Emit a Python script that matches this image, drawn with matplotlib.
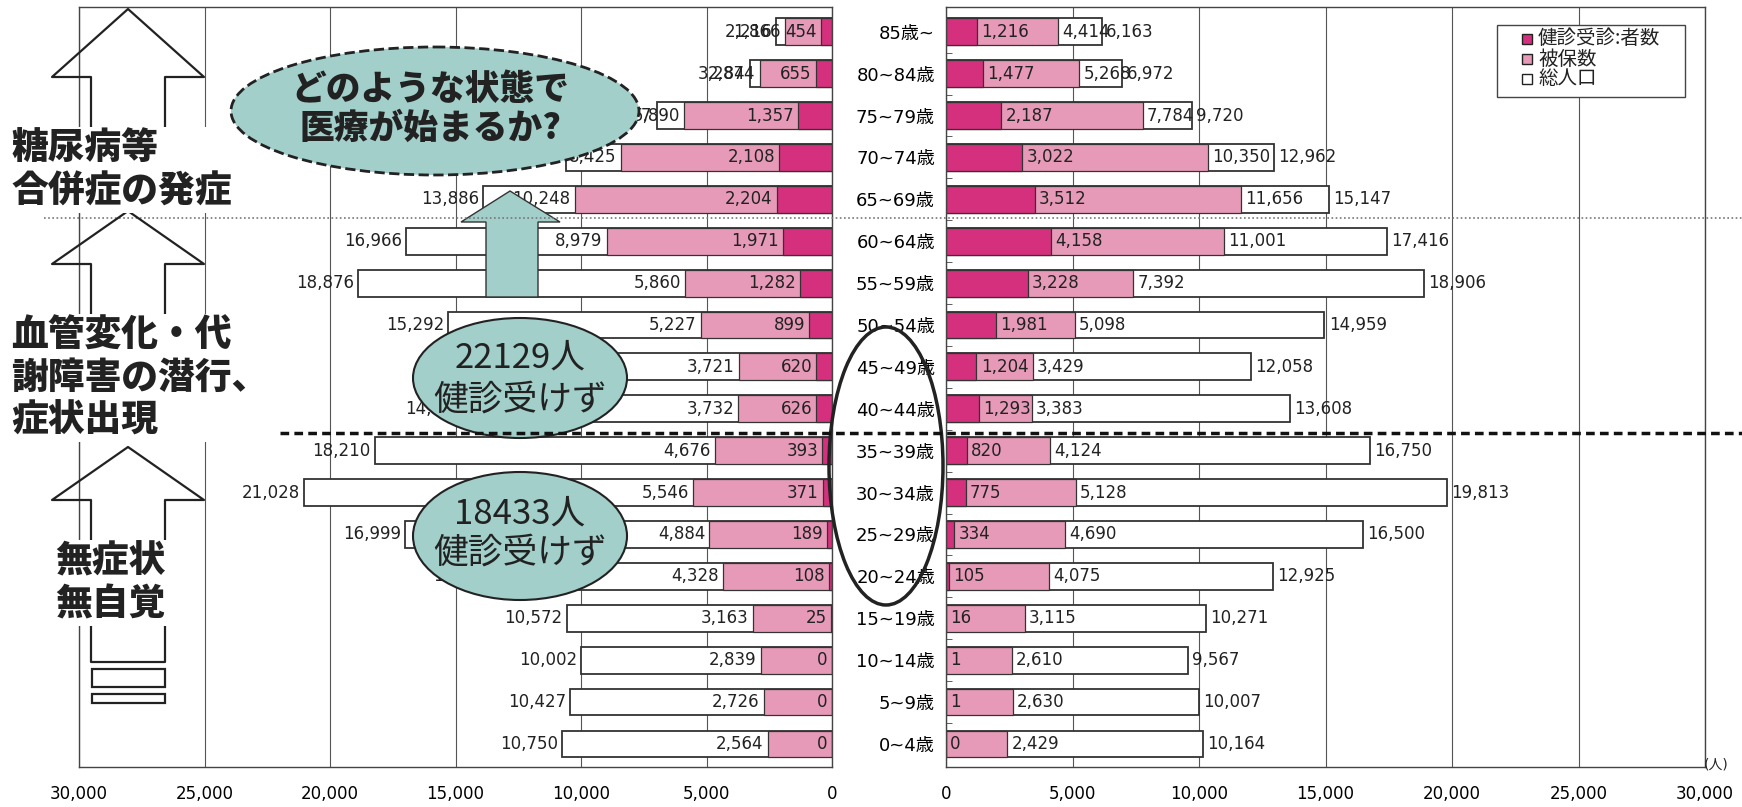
import matplotlib
matplotlib.use('Agg')
import matplotlib.pyplot as plt
from matplotlib.patches import Ellipse, Polygon, Rectangle
import numpy as np

plt.rcParams['font.family'] = ['DejaVu Sans', 'Noto Sans CJK JP']

# age groups, bottom to top
ages = ['0~4歳', '5~9歳', '10~14歳', '15~19歳', '20~24歳', '25~29歳', '30~34歳',
        '35~39歳', '40~44歳', '45~49歳', '50~54歳', '55~59歳', '60~64歳',
        '65~69歳', '70~74歳', '75~79歳', '80~84歳', '85歳~']

left_total = [10750, 10427, 10002, 10572, 13412, 16999, 21028, 18210, 14537,
              12412, 15292, 18876, 16966, 13886, 10612, 6977, 3284, 2216]
left_insured = [2564, 2726, 2839, 3163, 4328, 4884, 5546, 4676, 3732,
                3721, 5227, 5860, 8979, 10248, 8425, 5890, 2874, 1866]
left_checked = [0, 0, 0, 25, 108, 189, 371, 393, 626,
                620, 899, 1282, 1971, 2204, 2108, 1357, 655, 454]

right_total = [10164, 10007, 9567, 10271, 12925, 16500, 19813, 16750, 13608,
               12058, 14959, 18906, 17416, 15147, 12962, 9720, 6972, 6163]
right_insured = [2429, 2630, 2610, 3115, 4075, 4690, 5128, 4124, 3383,
                 3429, 5098, 7392, 11001, 11656, 10350, 7784, 5268, 4414]
right_checked = [0, 1, 1, 16, 105, 334, 775, 820, 1293,
                 1204, 1981, 3228, 4158, 3512, 3022, 2187, 1477, 1216]

series_names = ['健診受診:者数', '被保数', '総人口']
xticks = [0, 5000, 10000, 15000, 20000, 25000, 30000]

W, H = 1742, 807
fig = plt.figure(figsize=(W / 100, H / 100), dpi=100)


def px_axes(x0, y0, x1, y1):
    return fig.add_axes([x0 / W, 1 - y1 / H, (x1 - x0) / W, (y1 - y0) / H])


axL = px_axes(79, 7, 832, 767)
axR = px_axes(946, 7, 1705, 767)

dark = '#D4307D'
pink = '#E79AB7'
edge = '#333333'
teal = '#A2CFCA'
colors = [dark, pink, 'white']
y = np.arange(len(ages))
bh = 0.64

for side, ax, tot, ins, chk in [('L', axL, left_total, left_insured, left_checked),
                                ('R', axR, right_total, right_insured, right_checked)]:
    ax.barh(y, tot, height=bh, color='white', edgecolor=edge, lw=1.3)
    ax.barh(y, ins, height=bh, color=pink, edgecolor=edge, lw=0.9)
    ax.barh(y, chk, height=bh, color=dark, edgecolor=edge, lw=0.9)
    ax.set_xlim(0, 30000)
    ax.set_ylim(-0.55, 17.59)
    ax.set_xticks(xticks)
    ax.set_xticklabels([f'{v:,}' for v in xticks])
    ax.grid(axis='x', color='#555555', lw=0.8)
    ax.set_axisbelow(True)
    ax.tick_params(axis='x', length=0, pad=13, labelsize=12)
    for s in ax.spines.values():
        s.set_color('#444444')
        s.set_linewidth(1)
    off = -3 if side == 'L' else 3
    ha = 'right' if side == 'L' else 'left'
    for vals in (chk, ins, tot):
        for yi, v in zip(y, vals):
            ax.annotate(f'{v:,}', xy=(v, yi), xytext=(off, 0), textcoords='offset points',
                        ha=ha, va='center', fontsize=12, color='#222222')

axL.invert_xaxis()
axL.set_yticks([])
axR.set_yticks(y, ages)
axR.tick_params(axis='y', length=0, pad=8, labelsize=13)
axR.set_yticks(y[:-1] + 0.5, minor=True)
axR.tick_params(axis='y', which='minor', length=4, direction='in', color='#444444')

# overlay in pixel coordinates
ov = fig.add_axes([0, 0, 1, 1], facecolor='none')
ov.set_xlim(0, W)
ov.set_ylim(H, 0)
ov.axis('off')
ov.set_zorder(10)

# legend box
ov.add_patch(Rectangle((1497, 25), 188, 72, fc='white', ec='#444444', lw=1))
for i, (name, c) in enumerate(zip(series_names, colors)):
    ly = 39 + i * 20
    ov.add_patch(Rectangle((1522, ly - 5), 10, 10, fc=c, ec='#222222', lw=1))
    ov.text(1538, ly, name, ha='left', va='center', family=['Noto Sans CJK JP'],
            fontsize=14, color='#222222')

ov.plot([44, W], [218, 218], color='#777777', lw=1.2, ls=(0, (1, 1.5)))
ov.plot([280, W], [433, 433], color='#111111', lw=2.5, ls=(0, (2.5, 1.5)))


def outline_arrow(apex, base, bottom, cx=128, hw=76, sw=37):
    xs = [cx - sw, cx - sw, cx - hw, cx, cx + hw, cx + sw, cx + sw]
    ys = [bottom, base, base, apex, base, base, bottom]
    ov.plot(xs, ys, color='#222222', lw=1.6)


outline_arrow(9, 77, 150)
outline_arrow(211, 264, 330)
outline_arrow(447, 500, 560)
ov.plot([91, 91, 165, 165], [600, 662, 662, 600], color='#222222', lw=1.6)
ov.add_patch(Rectangle((92, 669), 73, 18, fill=False, ec='#222222', lw=1.6))
ov.add_patch(Rectangle((92, 694), 73, 9, fill=False, ec='#222222', lw=1.6))

big = dict(family=['Noto Sans CJK JP'], fontsize=26.5, fontweight='black', color='#222222',
           va='center', linespacing=1.15, bbox=dict(fc='white', ec='none', pad=2))
ov.text(11, 170, '糖尿病等\n合併症の発症', ha='left', **big)
ov.text(11, 378, '血管変化・代\n謝障害の潜行、\n症状出現', ha='left', **big)
ov.text(110, 583, '無症状\n無自覚', ha='center', **big)

ov.add_patch(Ellipse((435, 111), 408, 128, fc=teal, ec='#222222', ls='--', lw=2))
ov.text(430, 109, 'どのような状態で\n医療が始まるか?', ha='center', va='center',
        family=['Noto Sans CJK JP'], fontsize=25, fontweight='black', color='#222222',
        linespacing=1.15)

ov.add_patch(Polygon([(486, 297), (486, 222), (461, 222), (510, 191), (560, 222),
                      (538, 222), (538, 297)], closed=True, fc=teal, ec='#333333', lw=1))

for cy, t1, t2, h in [(378, 358, 400, 120), (536, 515, 554, 128)]:
    ov.add_patch(Ellipse((520, cy), 214, h, fc=teal, ec='#222222', lw=1.5))
for txt, ty in [('22129人', 358), ('18433人', 514)]:
    ov.text(520, ty, txt, ha='center', va='center', family=['Noto Sans CJK JP'],
            fontsize=25, color='#222222')
for ty in (400, 553):
    ov.text(520, ty, '健診受けず', ha='center', va='center', family=['Noto Sans CJK JP'],
            fontsize=25, color='#222222')

ov.add_patch(Ellipse((886, 466), 114, 278, fill=False, ec='#222222', lw=2.5))
ov.text(1716, 764, '(人)', ha='center', va='center', fontsize=10, color='#222222')

fig.savefig('out.png', dpi=100)
